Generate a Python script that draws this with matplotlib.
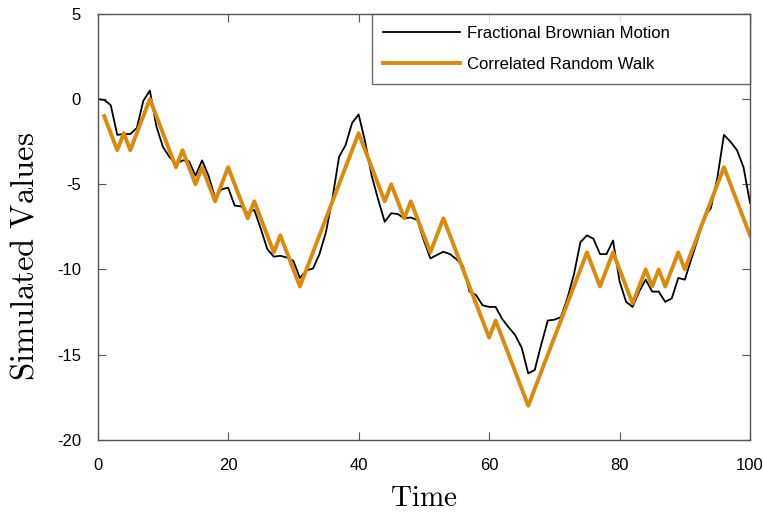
import matplotlib
matplotlib.use("Agg")
import matplotlib.pyplot as plt
import numpy as np

plt.rcParams['font.family'] = ['Liberation Sans', 'DejaVu Sans']
plt.rcParams['mathtext.fontset'] = 'cm'
plt.rcParams['axes.unicode_minus'] = False

# Fractional Brownian Motion, t = 0..100
fbm_t = list(range(0, 101))
fbm_values = [
    0.0, -0.05, -0.35, -2.1, -2.05, -2.05, -1.7, -0.1, 0.5, -1.6,      # 0-9
    -2.8, -3.4, -3.8, -3.6, -3.65, -4.5, -3.6, -4.5, -5.8, -5.3,        # 10-19
    -5.2, -6.25, -6.3, -6.7, -6.5, -7.6, -8.8, -9.25, -9.2, -9.3,       # 20-29
    -9.5, -10.5, -10.05, -9.95, -9.1, -7.8, -5.8, -3.4, -2.7, -1.4,     # 30-39
    -0.9, -2.5, -4.5, -5.9, -7.2, -6.7, -6.75, -7.0, -6.95, -7.1,       # 40-49
    -8.3, -9.35, -9.15, -8.96, -9.1, -9.4, -9.8, -11.3, -11.5, -12.1,   # 50-59
    -12.2, -12.2, -12.9, -13.4, -13.85, -14.6, -16.1, -15.9, -14.4, -13.0,  # 60-69
    -12.95, -12.8, -11.7, -10.3, -8.4, -8.0, -8.2, -9.1, -9.1, -8.3,    # 70-79
    -10.7, -11.9, -12.2, -11.3, -10.6, -11.3, -11.3, -11.9, -11.7, -10.5,  # 80-89
    -10.6, -9.4, -8.2, -6.9, -6.4, -4.6, -2.1, -2.5, -3.0, -4.0,        # 90-99
    -6.1,                                                               # 100
]

# Correlated Random Walk, t = 1..100
crw_t = list(range(1, 101))
crw_values = [
    -1, -2, -3, -2, -3, -2, -1, 0, -1, -2,
    -3, -4, -3, -4, -5, -4, -5, -6, -5, -4,
    -5, -6, -7, -6, -7, -8, -9, -8, -9, -10,
    -11, -10, -9, -8, -7, -6, -5, -4, -3, -2,
    -3, -4, -5, -6, -5, -6, -7, -6, -7, -8,
    -9, -8, -7, -8, -9, -10, -11, -12, -13, -14,
    -13, -14, -15, -16, -17, -18, -17, -16, -15, -14,
    -13, -12, -11, -10, -9, -10, -11, -10, -9, -10,
    -11, -12, -11, -10, -11, -10, -11, -10, -9, -10,
    -9, -8, -7, -6, -5, -4, -5, -6, -7, -8,
]

x_ticks = [0, 20, 40, 60, 80, 100]
y_ticks = [5, 0, -5, -10, -15, -20]

fig = plt.figure(figsize=(7.63, 5.15), dpi=100)
ax = fig.add_axes([0.128, 0.146, 0.855, 0.827])

ax.plot(fbm_t, fbm_values, color='black', lw=1.3, label='Fractional Brownian Motion')
ax.plot(crw_t, crw_values, color='#DA8A0C', lw=2.8, label='Correlated Random Walk')

ax.set_xlim(0, 100)
ax.set_ylim(-20, 5)
ax.set_xticks(x_ticks)
ax.set_yticks(y_ticks)
ax.tick_params(direction='in', top=True, right=True, labelsize=12, length=6,
               color='#555555')
ax.tick_params(axis='x', pad=13)
ax.tick_params(axis='y', pad=12)
for s in ax.spines.values():
    s.set_color('#555555')
    s.set_linewidth(1.0)

ax.set_xlabel(r'$\mathrm{Time}$', fontsize=21, labelpad=8)
ax.set_ylabel(r'$\mathrm{Simulated\ Values}$', fontsize=23.5)
ax.yaxis.set_label_coords(-0.087, 0.43)

leg = ax.legend(loc='upper right', bbox_to_anchor=(0.42, 0.838, 0.58, 0.162),
                mode='expand', fontsize=12, frameon=True, fancybox=False,
                borderaxespad=0.0, handlelength=4.6, borderpad=0.7,
                labelspacing=1.0, handletextpad=0.4)
leg.get_frame().set_edgecolor('#444444')
leg.get_frame().set_linewidth(1.0)

fig.savefig('out.png', dpi=100)
